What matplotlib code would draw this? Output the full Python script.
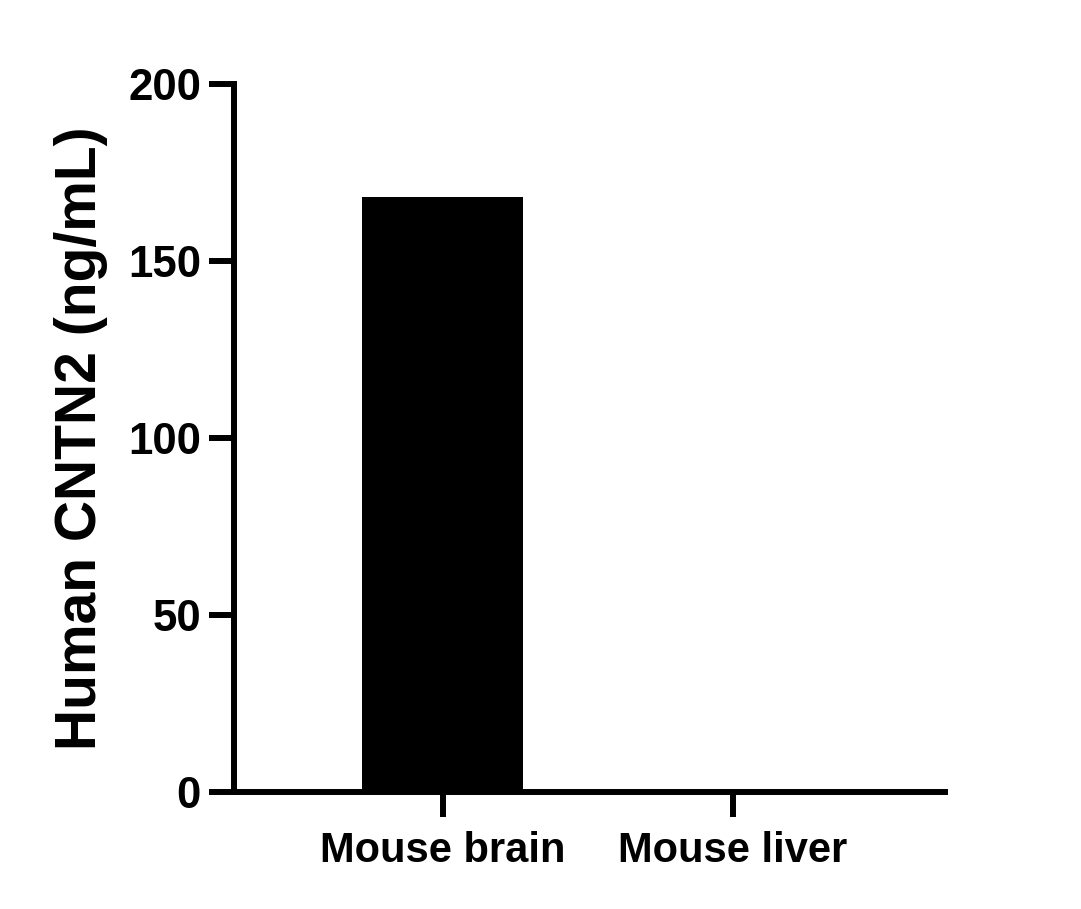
import matplotlib
matplotlib.use("Agg")
import matplotlib.pyplot as plt

# Chart data
categories = ["Mouse brain", "Mouse liver"]
values = [168, 0]
y_ticks = [0, 50, 100, 150, 200]

plt.rcParams["font.family"] = ["Liberation Sans", "DejaVu Sans"]
plt.rcParams["font.weight"] = "bold"

fig = plt.figure(figsize=(10.81, 9.09), dpi=100)
ax = fig.add_axes([234 / 1081, 1 - 792 / 909, (945 - 234) / 1081, (792 - 83.5) / 909])

x = list(range(len(categories)))
ax.bar(x, values, width=0.555, color="black")

ax.set_xlim(-0.72, 1.731)
ax.set_ylim(0, 200)
ax.set_yticks(y_ticks)
ax.set_xticks(x)
ax.set_xticklabels(categories)

for side in ["top", "right"]:
    ax.spines[side].set_visible(False)
for side in ["left", "bottom"]:
    ax.spines[side].set_linewidth(4.3)
    ax.spines[side].set_capstyle("projecting")

ax.tick_params(axis="both", width=4.3, length=18)
ax.tick_params(axis="y", pad=5.8, labelsize=31.5)
ax.tick_params(axis="x", pad=10, labelsize=30)
for lbl in ax.get_xticklabels() + ax.get_yticklabels():
    lbl.set_fontweight("bold")

ax.set_ylabel("Human CNTN2 (ng/mL)", fontsize=41, fontweight="bold", labelpad=14)

fig.savefig("out.png", dpi=100)
